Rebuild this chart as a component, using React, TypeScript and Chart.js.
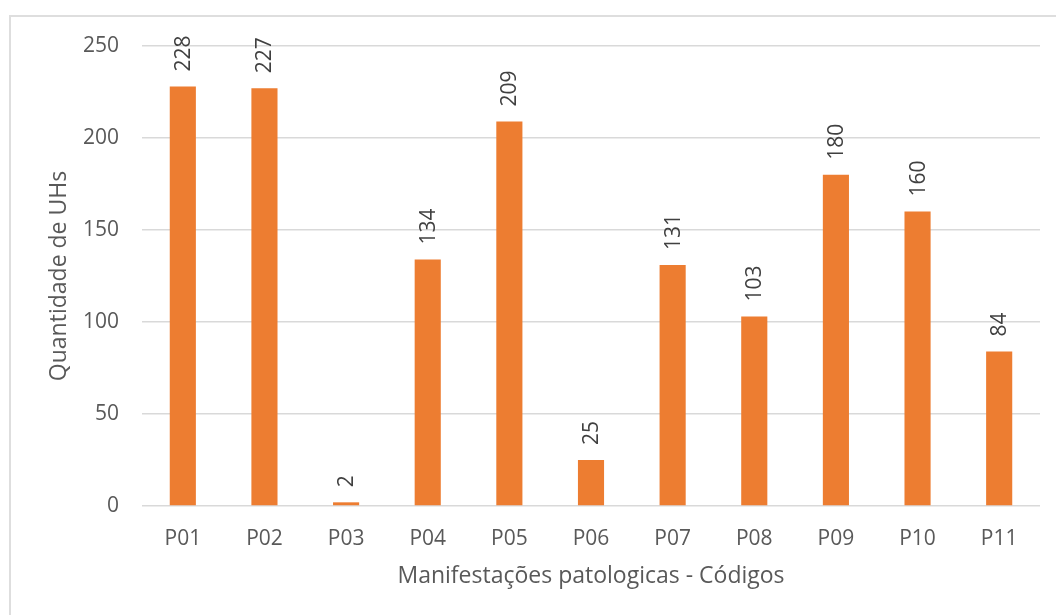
import React, { useEffect, useRef } from "react";
import { Chart, registerables } from "chart.js";

Chart.register(...registerables);

const categories = ["P01", "P02", "P03", "P04", "P05", "P06", "P07", "P08", "P09", "P10", "P11"];
const values = [228, 227, 2, 134, 209, 25, 131, 103, 180, 160, 84];
const yTicks = [0, 50, 100, 150, 200, 250];
const xTitle = "Manifestações patologicas - Códigos";
const yTitle = "Quantidade de UHs";

const FONT = '"Open Sans", "Noto Sans", sans-serif';
const BAR_COLOR = "#ED7D31";
const GRID_COLOR = "#d9d9d9";
const TEXT_COLOR = "#595959";
const LABEL_COLOR = "#404040";

const barLabels = {
  id: "barLabels",
  afterDatasetsDraw(chart: any) {
    const ctx = chart.ctx;
    const meta = chart.getDatasetMeta(0);
    ctx.save();
    ctx.font = `21px ${FONT}`;
    ctx.fillStyle = LABEL_COLOR;
    ctx.textAlign = "left";
    ctx.textBaseline = "middle";
    meta.data.forEach((bar: any, i: number) => {
      ctx.save();
      ctx.translate(bar.x + 1, bar.y - 15);
      ctx.rotate(-Math.PI / 2);
      ctx.fillText(String(values[i]), 0, 0);
      ctx.restore();
    });
    ctx.restore();
  },
};

export default function App() {
  const ref = useRef<HTMLCanvasElement | null>(null);

  useEffect(() => {
    if (!ref.current) return;
    const chart = new Chart(ref.current, {
      type: "bar",
      data: {
        labels: categories,
        datasets: [
          {
            data: values,
            backgroundColor: BAR_COLOR,
            borderWidth: 0,
            categoryPercentage: 1,
            barPercentage: 0.32,
          },
        ],
      },
      plugins: [barLabels],
      options: {
        responsive: false,
        animation: false,
        devicePixelRatio: 1,
        layout: { padding: { top: 46, right: 16, left: 0, bottom: 0 } },
        plugins: {
          legend: { display: false },
          tooltip: { enabled: false },
          title: { display: false },
        },
        scales: {
          x: {
            grid: { display: false, drawTicks: false },
            border: { display: false },
            ticks: {
              color: TEXT_COLOR,
              font: { family: FONT, size: 21 },
              padding: 20,
              maxRotation: 0,
            },
            title: {
              display: true,
              text: xTitle,
              color: TEXT_COLOR,
              font: { family: FONT, size: 23 },
              padding: { top: 0, bottom: 25 },
            },
            afterFit: (s: any) => {
              s.height = 109;
            },
          },
          y: {
            min: 0,
            max: 250,
            afterBuildTicks: (s: any) => {
              s.ticks = yTicks.map((v) => ({ value: v }));
            },
            grid: { color: GRID_COLOR, lineWidth: 1.5, drawTicks: false },
            border: { display: false },
            ticks: {
              color: TEXT_COLOR,
              font: { family: FONT, size: 21 },
              padding: 23,
            },
            title: {
              display: true,
              text: yTitle,
              color: TEXT_COLOR,
              font: { family: FONT, size: 23 },
              padding: { top: 46, bottom: 0 },
            },
            afterFit: (s: any) => {
              s.width = 142;
            },
          },
        },
      },
    });
    return () => chart.destroy();
  }, []);

  return (
    <div style={{ position: "fixed", left: 0, top: 0, width: 1056, height: 615, background: "#fff", overflow: "hidden" }}>
      <div
        style={{
          position: "absolute",
          left: 9,
          top: 15,
          width: 1200,
          height: 800,
          borderTop: "2px solid #dedede",
          borderLeft: "2px solid #dedede",
        }}
      />
      <canvas ref={ref} width={1056} height={615} style={{ position: "absolute", left: 0, top: 0, display: "block" }} />
    </div>
  );
}
